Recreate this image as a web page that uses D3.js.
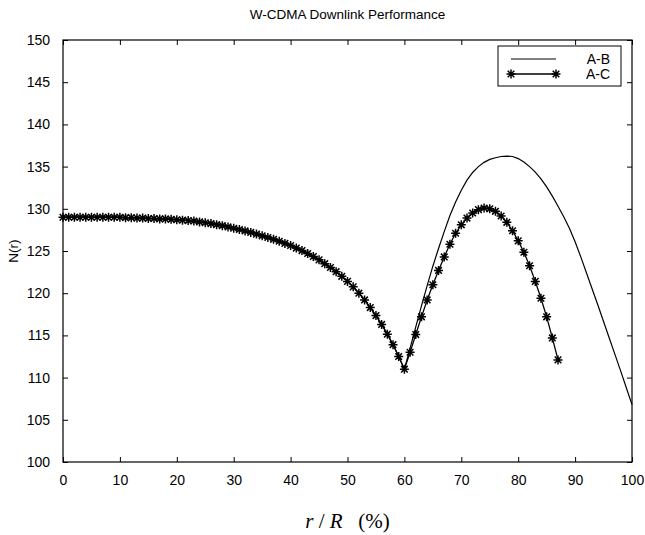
<!DOCTYPE html>
<html>
<head>
<meta charset="utf-8">
<script src="https://cdn.jsdelivr.net/npm/d3@7"></script>
<style>
  body { margin: 0; background: #fff; }
  svg text { font-family: "Liberation Sans", Arial, sans-serif; }
</style>
</head>
<body>
<div id="chart"></div>
<script>
// N(r), one value per 1% of r/R
var abVals = [
  129.0, 129.0, 129.0, 129.0, 129.0, 129.0, 129.0, 129.0, 129.0, 129.0,
  129.0, 128.95, 128.95, 128.9, 128.9, 128.85, 128.85, 128.8, 128.8, 128.75,
  128.7, 128.65, 128.6, 128.55, 128.45, 128.35, 128.25, 128.12, 128.0, 127.85,
  127.7, 127.55, 127.38, 127.2, 127.0, 126.8, 126.6, 126.38, 126.15, 125.9,
  125.65, 125.35, 125.05, 124.7, 124.35, 123.95, 123.5, 123.05, 122.55, 122.0,
  121.4, 120.75, 120.0, 119.2, 118.3, 117.35, 116.3, 115.15, 113.9, 112.5,
  111.0, 113.5, 116.0, 118.5, 120.9, 123.2, 125.3, 127.3, 129.2, 130.8,
  132.2, 133.4, 134.3, 135.0, 135.5, 135.85, 136.05, 136.2, 136.25, 136.2,
  135.95, 135.55, 135.0, 134.35, 133.55, 132.6, 131.5, 130.3, 129.05, 127.7,
  126.1, 124.3, 122.4, 120.5, 118.6, 116.65, 114.7, 112.75, 110.8, 108.8,
  106.8
];
var acVals = [
  129.0, 129.0, 129.0, 129.0, 129.0, 129.0, 129.0, 129.0, 129.0, 129.0,
  129.0, 128.95, 128.95, 128.9, 128.9, 128.85, 128.85, 128.8, 128.8, 128.75,
  128.7, 128.65, 128.6, 128.55, 128.45, 128.35, 128.25, 128.12, 128.0, 127.85,
  127.7, 127.55, 127.38, 127.2, 127.0, 126.8, 126.6, 126.38, 126.15, 125.9,
  125.65, 125.35, 125.05, 124.7, 124.35, 123.95, 123.5, 123.05, 122.55, 122.0,
  121.4, 120.75, 120.0, 119.2, 118.3, 117.35, 116.3, 115.15, 113.9, 112.5,
  111.0, 113.0, 115.1, 117.2, 119.2, 121.0, 122.7, 124.3, 125.8, 127.1,
  128.1, 128.9, 129.5, 129.9, 130.1, 130.0, 129.7, 129.15, 128.4, 127.4,
  126.2, 124.85, 123.25, 121.4, 119.4, 117.2, 114.7, 112.1
];
var seriesNames = ["A-B", "A-C"];
var xTicks = [0, 10, 20, 30, 40, 50, 60, 70, 80, 90, 100];
var yTicks = [100, 105, 110, 115, 120, 125, 130, 135, 140, 145, 150];

var margin = {top: 40, bottom: 73, left: 63, right: 13};
var width = 645 - margin.left - margin.right;
var height = 535 - margin.top - margin.bottom;

var svg = d3.select("#chart")
    .append("svg")
    .attr("width", 645)
    .attr("height", 535)
    .append("g")
    .attr("transform", "translate(" + margin.left + "," + margin.top + ")");

var x = d3.scaleLinear().domain([0, 100]).range([0, width]);
var y = d3.scaleLinear().domain([100, 150]).range([height, 0]);

// matlab style box with inward ticks
svg.append("g")
    .attr("class", "x-axis")
    .attr("transform", "translate(0," + height + ")")
    .call(d3.axisBottom(x).tickValues(xTicks).tickSizeInner(-5).tickSizeOuter(0).tickPadding(13));
svg.append("g")
    .attr("class", "y-axis")
    .call(d3.axisLeft(y).tickValues(yTicks).tickSizeInner(-5).tickSizeOuter(0).tickPadding(13));
svg.append("g")
    .call(d3.axisTop(x).tickValues(xTicks).tickSizeInner(-5).tickSizeOuter(0).tickFormat(""));
svg.append("g")
    .attr("transform", "translate(" + width + ",0)")
    .call(d3.axisRight(y).tickValues(yTicks).tickSizeInner(-5).tickSizeOuter(0).tickFormat(""));

svg.selectAll(".domain").remove();
svg.selectAll(".tick line").attr("stroke", "#000").attr("stroke-width", 1);
svg.selectAll(".tick text").attr("font-size", 14).attr("fill", "#000")
    .attr("font-family", "'Liberation Sans', Arial, sans-serif");

svg.append("rect")
    .attr("x", 0).attr("y", 0)
    .attr("width", width).attr("height", height)
    .attr("fill", "none")
    .attr("stroke", "#000")
    .attr("stroke-width", 1.2);

var line = d3.line()
    .x((d, i) => x(i))
    .y(d => y(d));

svg.append("path")
    .datum(abVals)
    .attr("fill", "none")
    .attr("stroke", "#000")
    .attr("stroke-width", 1.2)
    .attr("d", line);

svg.append("path")
    .datum(acVals)
    .attr("fill", "none")
    .attr("stroke", "#000")
    .attr("stroke-width", 1.3)
    .attr("d", line);

// asterisk marker
var star = "M-4.5,0L4.5,0M0,-4.5L0,4.5M-3.3,-3.3L3.3,3.3M-3.3,3.3L3.3,-3.3";

svg.selectAll(".star")
    .data(acVals)
    .enter()
    .append("path")
    .attr("class", "star")
    .attr("transform", (d, i) => "translate(" + x(i) + "," + y(d) + ")")
    .attr("d", star)
    .attr("stroke", "#000")
    .attr("stroke-width", 1.5)
    .attr("fill", "none");

// legend
var legend = svg.append("g").attr("transform", "translate(" + (width - 134) + ",6)");
legend.append("rect")
    .attr("width", 123).attr("height", 40)
    .attr("fill", "#fff").attr("stroke", "#000").attr("stroke-width", 1);
legend.selectAll("text")
    .data(seriesNames)
    .enter()
    .append("text")
    .attr("x", 112)
    .attr("y", (d, i) => 18 + i * 15)
    .attr("text-anchor", "end")
    .attr("font-size", 14)
    .text(d => d);
legend.append("line")
    .attr("x1", 13).attr("x2", 58).attr("y1", 13).attr("y2", 13)
    .attr("stroke", "#000").attr("stroke-width", 1.2);
legend.append("line")
    .attr("x1", 13).attr("x2", 58).attr("y1", 28).attr("y2", 28)
    .attr("stroke", "#000").attr("stroke-width", 1.3);
legend.selectAll(".lstar")
    .data([13, 58])
    .enter()
    .append("path")
    .attr("transform", d => "translate(" + d + ",28)")
    .attr("d", star)
    .attr("stroke", "#000")
    .attr("stroke-width", 1.5)
    .attr("fill", "none");

// titles
svg.append("text")
    .attr("x", width / 2)
    .attr("y", -21)
    .attr("text-anchor", "middle")
    .attr("font-size", 13.5)
    .text("W-CDMA Downlink Performance");

svg.append("text")
    .attr("transform", "translate(-45," + (height / 2) + ") rotate(-90)")
    .attr("text-anchor", "middle")
    .attr("font-size", 13.5)
    .text("N(r)");

var xlab = svg.append("text")
    .attr("x", width / 2)
    .attr("y", height + 66)
    .attr("text-anchor", "middle")
    .attr("font-size", 21)
    .style("font-family", "'Liberation Serif', 'Times New Roman', serif");
xlab.append("tspan").attr("font-style", "italic").text("r");
xlab.append("tspan").text(" / ");
xlab.append("tspan").attr("font-style", "italic").text("R");
xlab.append("tspan").text("\u00a0\u00a0\u00a0(%)");
</script>
</body>
</html>
